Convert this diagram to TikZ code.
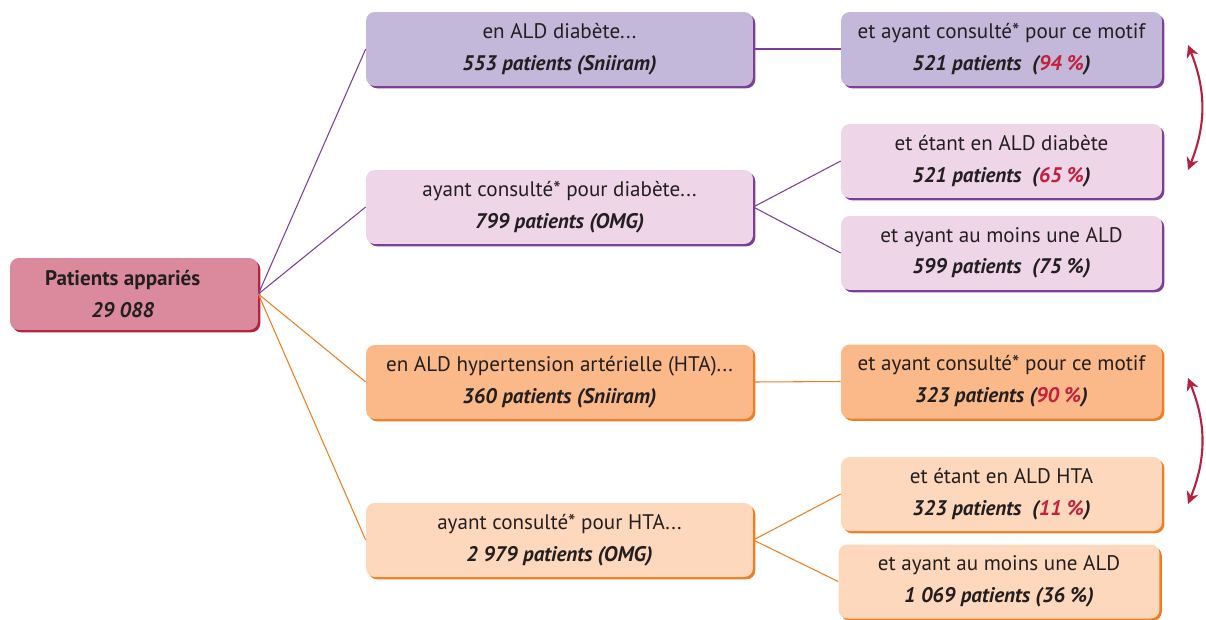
\documentclass[tikz,border=0pt]{standalone}
\usepackage{fontspec}
\setmainfont{PT Sans}
\usetikzlibrary{shadows,arrows.meta}
\definecolor{txt}{HTML}{231F20}
\definecolor{rootfill}{HTML}{DB8A9E}
\definecolor{rootdark}{HTML}{B5223F}
\definecolor{lavfill}{HTML}{C3B8D9}
\definecolor{pinkfill}{HTML}{EED5E8}
\definecolor{purpdark}{HTML}{7B3F98}
\definecolor{orfill}{HTML}{FBB98A}
\definecolor{peachfill}{HTML}{FDD8BC}
\definecolor{ordark}{HTML}{F07D22}
\definecolor{pct}{HTML}{C0223F}
\newcommand{\pts}[1]{\textbf{\textit{#1}}}

\begin{document}
\begin{tikzpicture}[x=0.02cm,y=-0.02cm,
  box/.style={rounded corners=5pt, align=center, text=txt, inner sep=0pt,
    font=\fontsize{12}{18}\selectfont},
  shade/.style={drop shadow={shadow xshift=1.3pt,shadow yshift=-1.3pt,fill=#1,opacity=1}},
  wide/.style={box, minimum width=7.74cm, minimum height=1.48cm},
  narrow/.style={box, minimum width=6.42cm, minimum height=1.48cm},
  purpline/.style={purpdark, line width=0.6pt},
  orline/.style={ordark, line width=0.6pt},
  twoway/.style={{Stealth[length=7pt,width=7pt]}-{Stealth[length=7pt,width=7pt]}, rootdark, line width=1.2pt}]
\useasboundingbox (0,0) rectangle (1206,619);
% Root
\node[box, shade=rootdark, fill=rootfill, minimum width=4.96cm, minimum height=1.44cm] (root) at (134,294)
  {\textbf{Patients appariés}\hspace*{0.45cm}\\\pts{29 088}\hspace*{0.45cm}};
% Diabetes branch
\node[wide, shade=purpdark, fill=lavfill] (ald1) at (559.5,49) {en ALD diabète...\\\pts{553 patients (Sniiram)}};
\node[wide, shade=purpdark, fill=pinkfill] (omg1) at (559.5,207) {ayant consulté* pour diabète...\\\pts{799 patients (OMG)}};
\node[narrow, shade=purpdark, fill=lavfill] (mot1) at (1001.5,49)
  {et ayant consulté* pour ce motif\\\pts{521 patients\ \ (\textcolor{pct}{94 \%})}};
\node[narrow, shade=purpdark, fill=pinkfill] (eta1) at (1001.5,161)
  {et étant en ALD diabète\\\pts{521 patients\ \ (\textcolor{pct}{65 \%})}};
\node[narrow, shade=purpdark, fill=pinkfill] (any1) at (1001.5,253)
  {et ayant au moins une ALD\\\pts{599 patients\ \ (75 \%)}};
% HTA branch
\node[wide, shade=ordark, fill=orfill] (ald2) at (559.5,382) {en ALD hypertension artérielle (HTA)...\\\pts{360 patients (Sniiram)}};
\node[wide, shade=ordark, fill=peachfill] (omg2) at (559.5,540) {ayant consulté* pour HTA...\\\pts{2 979 patients (OMG)}};
\node[narrow, shade=ordark, fill=orfill] (mot2) at (1001.5,381.5)
  {et ayant consulté* pour ce motif\\\pts{323 patients (\textcolor{pct}{90 \%})}};
\node[narrow, shade=ordark, fill=peachfill] (eta2) at (1001.5,494)
  {et étant en ALD HTA\\\pts{323 patients\ \ (\textcolor{pct}{11 \%})}};
\node[narrow, shade=ordark, fill=peachfill] (any2) at (999,581.5)
  {et ayant au moins une ALD\\\pts{1 069 patients (36 \%)}};
% Connectors
\draw[purpline] (root.east) -- (ald1.west);
\draw[purpline] (root.east) -- (omg1.west);
\draw[orline] (root.east) -- (ald2.west);
\draw[orline] (root.east) -- (omg2.west);
\draw[purpline] (ald1.east) -- (mot1.west);
\draw[purpline] (omg1.east) -- (eta1.west);
\draw[purpline] (omg1.east) -- (any1.west);
\draw[orline] (ald2.east) -- (mot2.west);
\draw[orline] (omg2.east) -- (eta2.west);
\draw[orline] (omg2.east) -- (any2.west);
% Two-way arrows
\coordinate (top1) at (1188,45);
\coordinate (bot1) at (1188,170);
\coordinate (top2) at (1188,378);
\coordinate (bot2) at (1188,504);
\draw[twoway] (top1) to[bend left=22] (bot1);
\draw[twoway] (top2) to[bend left=22] (bot2);
\end{tikzpicture}
\end{document}
